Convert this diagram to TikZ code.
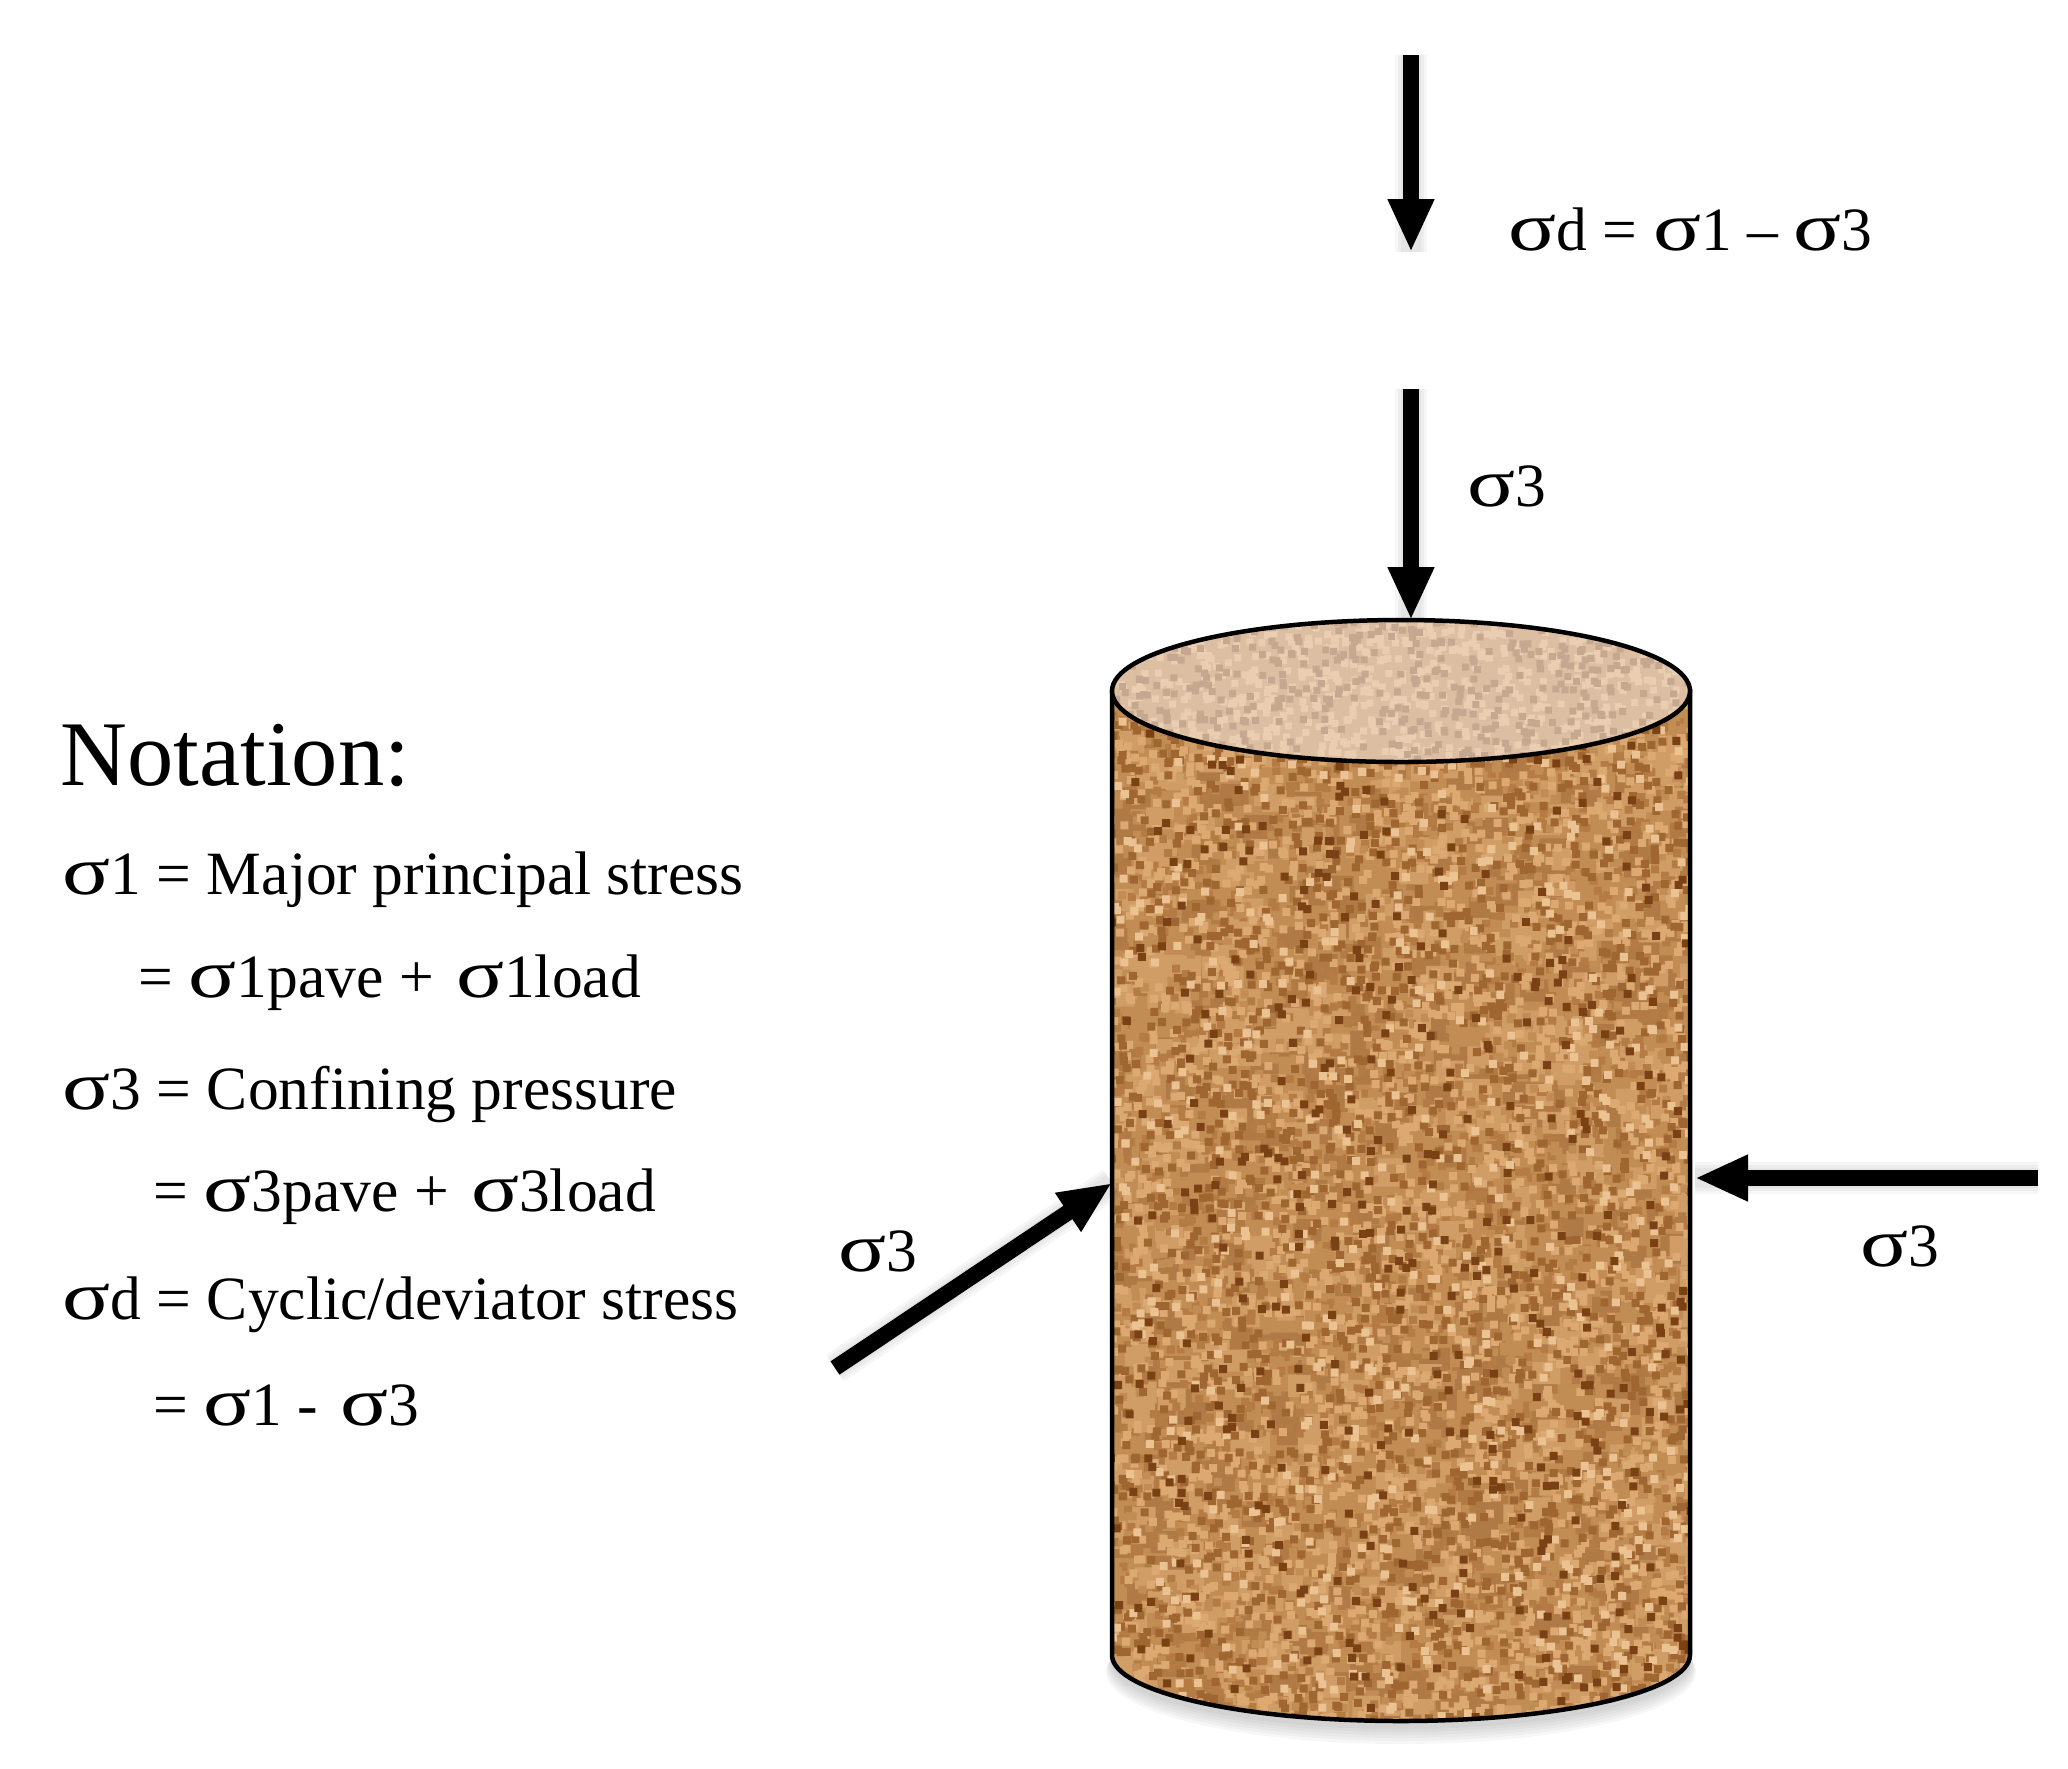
\documentclass[tikz,border=0pt]{standalone}
\usepackage{fontspec}
\setmainfont{Liberation Serif}
\usetikzlibrary{arrows.meta}
\definecolor{soilbase}{HTML}{C28C55}
\definecolor{soillight}{HTML}{DCA972}
\definecolor{soilpale}{HTML}{EBC292}
\definecolor{soilmid}{HTML}{B47B44}
\definecolor{soildark}{HTML}{9F6631}
\definecolor{soildeep}{HTML}{7A4214}
\definecolor{patchdark}{HTML}{B07A47}
\definecolor{patchlight}{HTML}{D09D67}
\definecolor{capbase}{HTML}{DCBFA3}
\definecolor{caplight}{HTML}{E9CEB2}
\definecolor{capdark}{HTML}{C6A890}
\newcommand{\sg}{\scalebox{1.45}[1.12]{σ}}
\tikzset{
	loadarrow/.style={line width=16*0.01cm,-{Triangle[length=53*0.01cm,width=43*0.01cm]}},
	notetext/.style={anchor=base west,inner sep=0pt,font=\fontsize{17.5}{20}\selectfont},
	notehead/.style={anchor=base west,inner sep=0pt,font=\fontsize{26.3}{30}\selectfont},
}
\pgfmathsetseed{42}
\begin{document}
\begin{tikzpicture}[x=0.01cm,y=-0.01cm]
		\useasboundingbox (0,0) rectangle (2068,1768);
		%%  shadow under the sample  %%%%%%%%
		\foreach \w in {1,...,6}{
			\fill[black,opacity=0.03] (1401,1660+\w*2) ellipse[x radius=289+\w,y radius=66+\w];
		}
		%%  sample body  %%%%%%%%
		\begin{scope}
			\clip (1112,689) -- (1112,1655) arc[start angle=180,end angle=0,x radius=289,y radius=66] -- (1690,689) -- cycle;
			\fill[soilbase] (1100,600) rectangle (1700,1730);
			\foreach \c/\n in {patchdark/450,patchlight/450}{
				\fill[\c] foreach \i in {1,...,\n} {(1095+595*rnd,670+1055*rnd) rectangle ++(28,22)};
			}
			\foreach \c/\n in {soilmid/2000,soilbase/1200,soillight/2600,soildark/1700,soilpale/600,soildeep/480}{
				\fill[\c] foreach \i in {1,...,\n} {(1105+585*rnd,680+1045*rnd) rectangle ++(8,8)};
			}
		\end{scope}
		\draw[line width=4.5*0.01cm] (1112,689) -- (1112,1655) arc[start angle=180,end angle=0,x radius=289,y radius=66] -- (1690,689);
		%%  top face  %%%%%%%%
		\begin{scope}
			\clip (1401,691) ellipse[x radius=289,y radius=71];
			\fill[capbase] (1100,610) rectangle (1700,770);
			\foreach \c/\n in {caplight/800,capdark/450}{
				\fill[\c] foreach \i in {1,...,\n} {(1110+580*rnd,618+146*rnd) rectangle ++(7,7)};
			}
		\end{scope}
		\draw[line width=4.5*0.01cm] (1401,691) ellipse[x radius=289,y radius=71];
		%%  load arrows  %%%%%%%%
		\coordinate (devtail) at (1411,55);
		\coordinate (devtip) at (1411,252);
		\coordinate (toptail) at (1411,389);
		\coordinate (toptip) at (1411,620);
		\coordinate (righttail) at (2038,1178);
		\coordinate (righttip) at (1695,1178);
		\coordinate (lefttail) at (835,1368);
		\coordinate (lefttip) at (1112,1183);
		\foreach \a/\b in {devtail/devtip,toptail/toptip,righttail/righttip,lefttail/lefttip}{
			\foreach \w in {20,26,32}{
				\draw[black,opacity=0.035,line width=\w*0.01cm] (\a) -- (\b);
			}
			\draw[loadarrow] (\a) -- (\b);
		}
		%%  load labels  %%%%%%%%
		\node[notetext] (devlabel) at (1508,250) {\sg d = \sg1 – \sg3};
		\node[notetext] (toplabel) at (1467,506) {\sg3};
		\node[notetext] (leftlabel) at (838,1271) {\sg3};
		\node[notetext] (rightlabel) at (1860,1266) {\sg3};
		%%  notation  %%%%%%%%
		\node[notehead] (nothead) at (60,785) {Notation:};
		\node[notetext] (notea) at (62,894) {\sg1 = Major principal stress};
		\node[notetext] (noteb) at (138,997) {= \sg1pave +\hspace{.36em}\sg1load};
		\node[notetext] (notec) at (62,1109) {\sg3 = Confining pressure};
		\node[notetext] (noted) at (153,1211) {= \sg3pave +\hspace{.36em}\sg3load};
		\node[notetext] (notee) at (62,1319) {\sg d = Cyclic/deviator stress};
		\node[notetext] (notef) at (153,1425) {= \sg1 -\hspace{.36em}\sg3};
		%%%%%%%%%%%%%%%
\end{tikzpicture}
\end{document}
